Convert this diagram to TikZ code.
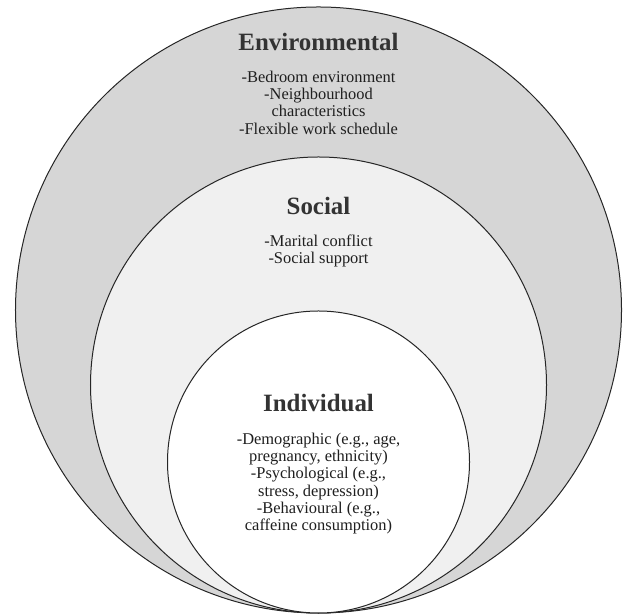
\documentclass[tikz,border=0pt]{standalone}
\usepackage{fontspec}
\setmainfont{Liberation Serif}
\usetikzlibrary{positioning}

\begin{document}
\begin{tikzpicture}[x=1bp,y=1bp,
  ring/.style={draw=black!85, line width=1bp},
  heading/.style={anchor=base, inner sep=0pt, text=black!80, font=\fontsize{25}{30}\selectfont\bfseries},
  items/.style={anchor=north, inner sep=0pt, align=center, text=black!88, font=\fontsize{16.5}{17.3}\selectfont}]
\useasboundingbox (0,0) rectangle (624,615);

\draw[ring, fill=black!16] (318.5,305) circle [radius=303bp]; % environmental ring
\draw[ring, fill=black!6] (318.5,230) circle [radius=228bp]; % social ring
\draw[ring, fill=white] (318.5,153) circle [radius=151bp]; % individual ring

\node[heading] (envtitle) at (318.5,564.3) {Environmental};
\node[items] (envitems) at (318.5,544.3) {-Bedroom environment\\-Neighbourhood\\characteristics\\-Flexible work schedule};

\node[heading] (soctitle) at (318.5,400) {Social};
\node[items] (socitems) at (318.5,380.6) {-Marital conflict\\-Social support};

\node[heading] (indtitle) at (318.5,203) {Individual};
\node[items] (inditems) at (318.5,182.3) {-Demographic (e.g., age,\\pregnancy, ethnicity)\\-Psychological (e.g.,\\stress, depression)\\-Behavioural (e.g.,\\caffeine consumption)};

\end{tikzpicture}
\end{document}
